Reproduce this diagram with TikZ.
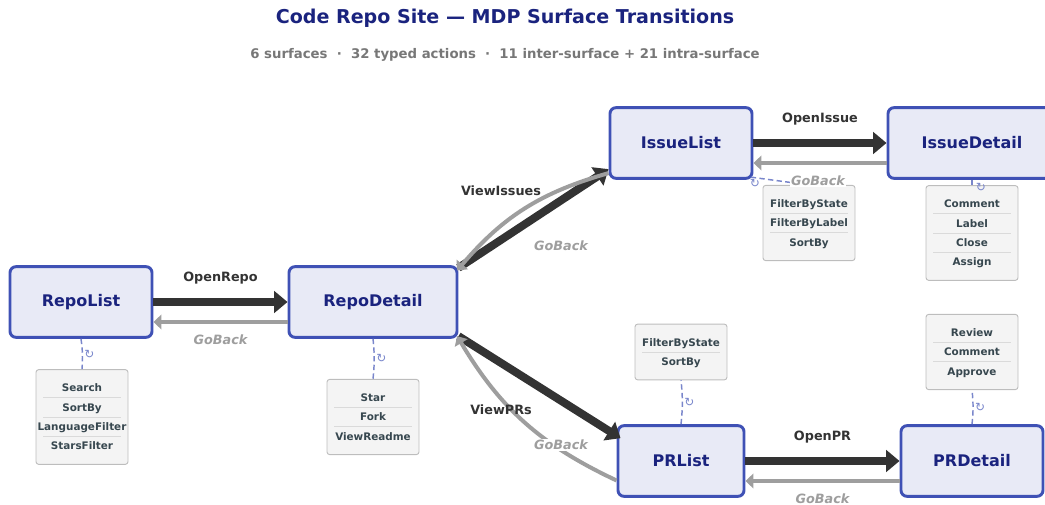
\documentclass[tikz,border=0pt]{standalone}
\usepackage{fontspec}
\setmainfont{DejaVu Sans}
\usepackage{array}
\usepackage{colortbl}
\usetikzlibrary{arrows.meta}

\definecolor{navy}{HTML}{1A237E}
\definecolor{boxfill}{HTML}{E8EAF6}
\definecolor{boxline}{HTML}{3F51B5}
\definecolor{fwd}{HTML}{333333}
\definecolor{back}{HTML}{9E9E9E}
\definecolor{subgray}{HTML}{777777}
\definecolor{loopblue}{HTML}{7986CB}
\definecolor{actfill}{HTML}{F4F4F4}
\definecolor{actline}{HTML}{BDBDBD}
\definecolor{acttext}{HTML}{37474F}
\definecolor{sepline}{HTML}{DADADA}

% one centred column, fixed width, text may overhang both sides
\newcolumntype{A}{@{}>{\hbox to 58pt\bgroup\hss}c<{\hss\egroup}@{}}
\newcommand{\actlist}[1]{{\arrayrulecolor{sepline}\renewcommand{\arraystretch}{1.42}\begin{tabular}{A}#1\end{tabular}}}

\begin{document}
\begin{tikzpicture}[x=0.75pt, y=-0.75pt,
    surface/.style={draw=boxline, fill=boxfill, line width=2.2pt, rounded corners=4.5pt,
      minimum height=53pt, text=navy, font=\fontsize{12pt}{14pt}\selectfont\bfseries},
    actbox/.style={draw=actline, fill=actfill, line width=0.7pt, rounded corners=2pt,
      inner xsep=5.5pt, inner ysep=6.5pt, text=acttext, font=\fontsize{7.8pt}{10pt}\selectfont\bfseries},
    fwdarrow/.style={draw=fwd, line width=6pt, -{Triangle[length=10pt, width=16pt]}},
    backarrow/.style={draw=back, line width=3pt, -{Triangle[length=6pt, width=11pt]}},
    loopline/.style={draw=loopblue, line width=1.1pt, dash pattern=on 4pt off 2.5pt},
    loopsym/.style={text=loopblue, inner sep=1pt, font=\fontsize{9pt}{10pt}\selectfont},
    elabel/.style={text=fwd, font=\fontsize{9.6pt}{11pt}\selectfont\bfseries},
    blabel/.style={text=back, fill=white, inner sep=1pt, font=\fontsize{9.6pt}{11pt}\selectfont\bfseries\itshape}]
    \useasboundingbox (0,0) rectangle (1045,505);

    % Title
    \node[text=navy, font=\fontsize{14.3pt}{17pt}\selectfont\bfseries] (title) at (505,18)
        {Code Repo Site — MDP Surface Transitions};
    \node[text=subgray, font=\fontsize{9.95pt}{12pt}\selectfont\bfseries] (subtitle) at (505,55)
        {6 surfaces~~·~~32 typed actions~~·~~11 inter-surface + 21 intra-surface};

    % Surfaces
    \node[surface, minimum width=106.5pt] (rl) at (81,302) {RepoList};
    \node[surface, minimum width=126pt] (rd) at (373,302) {RepoDetail};
    \node[surface, minimum width=106.5pt] (il) at (681,143) {IssueList};
    \node[surface, minimum width=126pt] (id) at (972,143) {IssueDetail};
    \node[surface, minimum width=94.5pt] (pl) at (681,461) {PRList};
    \node[surface, minimum width=106.5pt] (pd) at (972,461) {PRDetail};

    % Repo level
    \draw[fwdarrow] (rl.east) -- (rd.west)
        node[elabel, midway, yshift=18pt] (lopenrepo) {OpenRepo};
    \draw[backarrow] ([yshift=-15pt]rd.west) -- ([yshift=-15pt]rl.east)
        node[blabel, midway, yshift=-13.5pt] (lbackrepo) {GoBack};

    % Issues branch
    \draw[fwdarrow] ([yshift=-2pt]rd.north east) -- ([yshift=8pt]il.south west);
    \draw[backarrow] ([yshift=5pt]il.south west) to[bend right=17] ([xshift=-1pt, yshift=-4pt]rd.north east);
    \node[elabel] (lviewissues) at (501,191) {ViewIssues};
    \node[blabel] (lbackissues) at (561,246) {GoBack};

    \draw[fwdarrow] (il.east) -- (id.west)
        node[elabel, midway, yshift=18pt] (lopenissue) {OpenIssue};
    \draw[backarrow] ([yshift=-15pt]id.west) -- ([yshift=-15pt]il.east);

    % PR branch
    \draw[fwdarrow] ([yshift=2pt]rd.south east) -- ([xshift=3pt, yshift=-10.5pt]pl.north west);
    \draw[backarrow] ([yshift=13pt]pl.south west) to[bend left=17] ([xshift=-1pt, yshift=2pt]rd.south east);
    \node[elabel] (lviewprs) at (501,410) {ViewPRs};
    \node[blabel] (lbackprs) at (561,445) {GoBack};

    \draw[fwdarrow] (pl.east) -- (pd.west)
        node[elabel, midway, yshift=18pt] (lopenpr) {OpenPR};
    \draw[backarrow] ([yshift=-15pt]pd.west) -- ([yshift=-15pt]pl.east)
        node[blabel, midway, yshift=-13.5pt] (lbackpr) {GoBack};

    % Intra-surface actions
    \node[actbox] (rla) at (82,417) {\actlist{Search\\\hline SortBy\\\hline LanguageFilter\\\hline StarsFilter}};
    \node[actbox] (rda) at (373,417) {\actlist{Star\\\hline Fork\\\hline ViewReadme}};
    \node[actbox] (ila) at (809,223) {\actlist{FilterByState\\\hline FilterByLabel\\\hline SortBy}};
    \node[actbox] (ida) at (972,233) {\actlist{Comment\\\hline Label\\\hline Close\\\hline Assign}};
    \node[actbox] (pla) at (681,352) {\actlist{FilterByState\\\hline SortBy}};
    \node[actbox] (pda) at (972,352) {\actlist{Review\\\hline Comment\\\hline Approve}};

    \draw[loopline] (rl.south) to[bend left=6] node[loopsym, right] (rlsym) {↻} (rla.north);
    \draw[loopline] (rd.south) to[bend left=6] node[loopsym, right] (rdsym) {↻} (rda.north);
    \draw[loopline] ([xshift=-2pt, yshift=2pt]il.south east) -- (ila.north);
    \node[loopsym] (ilsym) at (755,183) {↻};
    \draw[loopline] (id.south) -- (ida.north);
    \node[loopsym] (idsym) at (981,187) {↻};
    \draw[loopline] (pl.north) to[bend right=6] node[loopsym, right] (plsym) {↻} (pla.south);
    \draw[loopline] (pd.north) to[bend right=6] node[loopsym, right] (pdsym) {↻} (pda.south);

    % label that sits on the dashed link
    \node[blabel] (lbackissue) at (818,181) {GoBack};
\end{tikzpicture}
\end{document}
